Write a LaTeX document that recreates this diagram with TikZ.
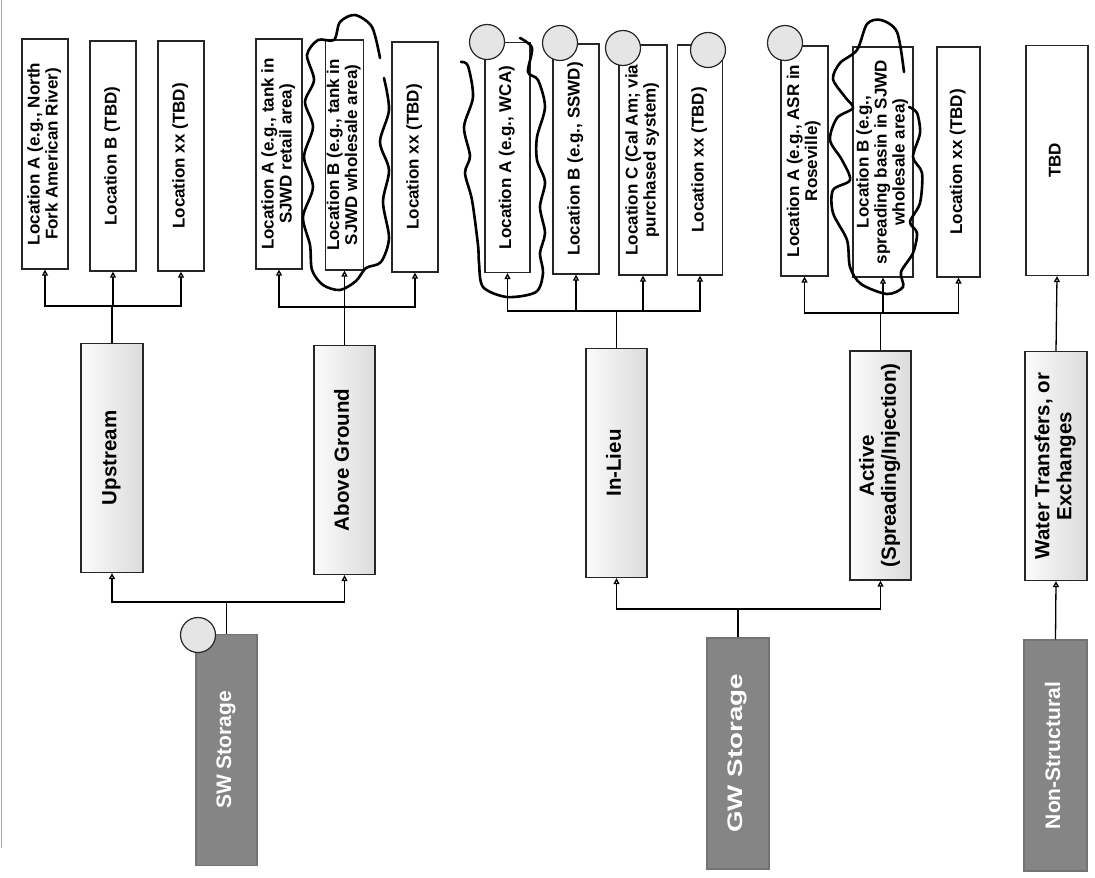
\documentclass[tikz,border=0pt]{standalone}
\usepackage{fontspec}
\setmainfont{Liberation Sans}
\usetikzlibrary{arrows.meta}

\newcommand{\vt}[1]{\rotatebox{90}{\begin{tabular}{@{}c@{}}#1\end{tabular}}}

\begin{document}
\begin{tikzpicture}[x=1pt,y=-1pt,
  box/.style={draw=black!85, line width=1.2pt, inner sep=0pt},
  leaf/.style={box, fill=white, minimum width=46pt, minimum height=230pt,
    font=\bfseries\fontsize{17}{18}\selectfont},
  mid/.style={box, left color=gray!3, right color=gray!28, minimum width=61pt,
    minimum height=229pt, font=\bfseries\fontsize{20.5}{22}\selectfont},
  root/.style={box, draw=black!55, fill=black!48, text=white, minimum width=62pt,
    minimum height=231pt, font=\bfseries\fontsize{21}{23}\selectfont},
  stamp/.style={circle, draw=black!85, line width=1.2pt, fill=gray!20,
    minimum size=35pt, inner sep=0pt},
  link/.style={line width=1.3pt},
  arr/.style={link, -{Triangle[open,length=6pt,width=6pt]}},
  scribble/.style={line width=2.6pt, line cap=round, line join=round}]

\useasboundingbox (0,0) rectangle (1095,878);
\draw[gray!70, line width=1.5pt] (1.5,0) -- (1.5,848);

% leaves
\node[leaf] (lfA1) at (45,154) {\vt{Location A (e.g., North\\Fork American River)}};
\node[leaf] (lfB1) at (113,156) {\vt{Location B (TBD)}};
\node[leaf] (lfX1) at (181,156) {\vt{Location xx (TBD)}};

\node[leaf] (lfA2) at (279,154) {\vt{Location A (e.g., tank in\\SJWD retail area)}};
\node[leaf, minimum width=38pt] (lfB2) at (344.5,155) {\vt{Location B (e.g., tank in\\SJWD wholesale area)}};
\node[leaf] (lfX2) at (415,157) {\vt{Location xx (TBD)}};

\node[leaf, minimum width=45pt] (lfA3) at (507.5,157.5) {\vt{Location A (e.g., WCA)}};
\node[leaf] (lfB3) at (576,159) {\vt{Location B (e.g., SSWD)}};
\node[leaf, minimum width=48pt] (lfC3) at (643,160) {\vt{Location C (Cal Am; via\\purchased system)}};
\node[leaf, minimum width=45pt] (lfX3) at (700,160) {\vt{Location xx (TBD)}};

\node[leaf, minimum width=47pt] (lfA4) at (804.5,161) {\vt{Location A (e.g., ASR in\\Roseville)}};
\node[leaf, minimum width=60pt] (lfB4) at (883,162) {\vt{Location B (e.g.,\\spreading basin in SJWD\\wholesale area)}};
\node[leaf, minimum width=43pt] (lfX4) at (958.5,162) {\vt{Location xx (TBD)}};

\node[leaf, minimum width=62pt] (lfT5) at (1057,160.5) {\vt{TBD}};

% middle level
\node[mid, minimum width=62pt] (mUp) at (112,458) {\vt{Upstream}};
\node[mid] (mAbove) at (344.5,460) {\vt{Above Ground}};
\node[mid] (mInLieu) at (616.5,463) {\vt{In-Lieu}};
\node[mid] (mActive) at (880.5,465.5) {\vt{Active\\(Spreading/Injection)}};
\node[mid, minimum width=62pt] (mWater) at (1056,466) {\vt{Water Transfers, or\\Exchanges}};

% roots
\node[root, minimum width=61pt] (rSW) at (226.5,750) {\vt{SW Storage}};
\node[root] (rGW) at (738,753.5) {\vt{\scalebox{1.32}[1]{GW Storage}}};
\node[root, minimum width=63pt] (rNon) at (1055.5,755.5) {\vt{Non-Structural}};

% junctions
\coordinate (jSW) at (226.5,602);
\coordinate (jGW) at (738,609);
\coordinate (jUp) at (112,306);
\coordinate (jAbove) at (344.5,307);
\coordinate (jInLieu) at (616.5,311);
\coordinate (jActive) at (880.5,313);

\draw[link] (rSW.north) -- (jSW);
\draw[arr] (jSW) -| (mUp.south);
\draw[arr] (jSW) -| (mAbove.south);
\draw[link] (rGW.north) -- (jGW);
\draw[arr] (jGW) -| (mInLieu.south);
\draw[arr] (jGW) -| (mActive.south);
\draw[arr] (rNon.north) -- (mWater.south);

\draw[link] (mUp.north) -- (jUp);
\foreach \n in {lfA1,lfB1,lfX1} \draw[arr] (jUp) -| (\n.south);
\draw[link] (mAbove.north) -- (jAbove);
\foreach \n in {lfA2,lfB2,lfX2} \draw[arr] (jAbove) -| (\n.south);
\draw[link] (mInLieu.north) -- (jInLieu);
\foreach \n in {lfA3,lfB3,lfC3,lfX3} \draw[arr] (jInLieu) -| (\n.south);
\draw[link] (mActive.north) -- (jActive);
\foreach \n in {lfA4,lfB4,lfX4} \draw[arr] (jActive) -| (\n.south);
\draw[arr] (mWater.north) -- (lfT5.south);

% stamps
\node[stamp] (s1) at (198,635) {};
\node[stamp] (s2) at (487,42) {};
\node[stamp] (s3) at (560,43) {};
\node[stamp] (s4) at (623,48) {};
\node[stamp] (s5) at (708,50) {};
\node[stamp] (s6) at (785,43) {};

% hand drawn marks
\draw[scribble] plot[smooth] coordinates {(380,58) (372,27) (355,15) (340,22) (334,40)
  (318,40) (307,55) (314,80) (305,102) (313,127) (304,157) (313,187) (303,217)
  (310,245) (312,270) (323,285) (340,290) (356,281) (366,268) (381,262) (389,238)
  (383,202) (389,170) (380,142) (389,110) (384,78)};
\draw[scribble] plot[smooth] coordinates {(520,38) (532,48) (528,72) (538,80) (545,107)
  (537,137) (537,160) (545,182) (540,207) (545,233) (540,253) (543,273) (536,292)
  (507,297) (483,287) (479,263) (478,245) (472,200) (465,173) (470,156) (464,127)
  (473,97) (468,66) (461,62)};
\draw[scribble] plot[smooth] coordinates {(904,72) (897,32) (881,20) (867,24) (857,50)
  (840,63) (833,79) (845,97) (853,108) (837,118) (830,140) (842,160) (850,180)
  (833,190) (833,213) (847,240) (850,267) (861,284) (887,294) (903,287) (901,272)
  (913,253) (917,233) (910,222) (920,203) (922,173) (913,157) (920,133) (917,113)
  (909,107)};
\end{tikzpicture}
\end{document}
